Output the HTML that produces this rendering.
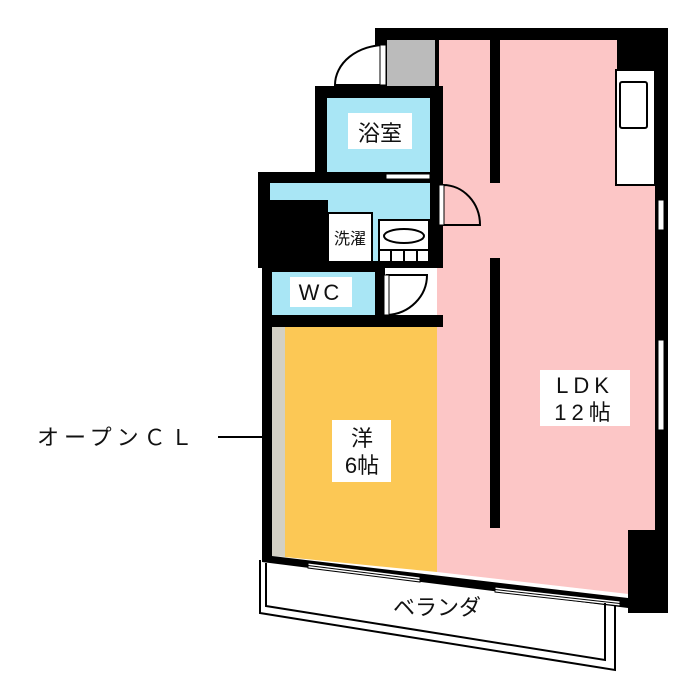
<!DOCTYPE html>
<html><head><meta charset="utf-8"><style>
html,body{margin:0;padding:0;background:#fff;}
svg{display:block}
text{font-family:"Liberation Sans","Noto Sans CJK JP",sans-serif;fill:#111}
</style></head><body>
<svg width="700" height="700" viewBox="0 0 700 700" xmlns="http://www.w3.org/2000/svg">
<polygon points="437,40 655,40 655,597 437,572" fill="#fcc6c6"/>
<polygon points="285,327 437,327 437,572 285,557" fill="#fcc855"/>
<polygon points="272,327 285,327 285,557 272,556" fill="#d3d0c4"/>
<rect x="387" y="40" width="48" height="46" fill="#bbbbbb"/>
<rect x="315" y="86" width="128" height="94" fill="#000"/>
<rect x="327" y="98" width="103" height="74" fill="#a9e6f5"/>
<rect x="258" y="172" width="185" height="96" fill="#000"/>
<rect x="270" y="183" width="160" height="78" fill="#a9e6f5"/>
<rect x="262" y="200" width="66" height="62" fill="#000"/>
<rect x="328" y="213" width="44" height="49" fill="#fff" stroke="#000" stroke-width="2"/>
<rect x="379" y="220" width="50" height="42" fill="#fff" stroke="#000" stroke-width="2"/>
<ellipse cx="404" cy="236" rx="20" ry="7" fill="none" stroke="#000" stroke-width="2"/>
<line x1="379" y1="250" x2="429" y2="250" stroke="#000" stroke-width="2"/>
<line x1="391" y1="250" x2="391" y2="262" stroke="#000" stroke-width="2"/>
<line x1="404" y1="250" x2="404" y2="262" stroke="#000" stroke-width="2"/>
<line x1="417" y1="250" x2="417" y2="262" stroke="#000" stroke-width="2"/>
<rect x="262" y="265" width="123" height="62" fill="#000"/>
<rect x="272" y="272" width="103" height="43" fill="#a9e6f5"/>
<rect x="262" y="315" width="181" height="12" fill="#000"/>
<rect x="262" y="265" width="10" height="295" fill="#000"/>
<rect x="375" y="28" width="293" height="12" fill="#000"/>
<rect x="375" y="28" width="12" height="58" fill="#000"/>
<rect x="435" y="40" width="4" height="46" fill="#000"/>
<rect x="617" y="28" width="51" height="42" fill="#000"/>
<rect x="655" y="28" width="13" height="585" fill="#000"/>
<rect x="658" y="200" width="6" height="30" fill="#fff" stroke="#000" stroke-width="1"/>
<rect x="658" y="340" width="6" height="90" fill="#fff" stroke="#000" stroke-width="1"/>
<rect x="628" y="530" width="40" height="83" fill="#000"/>
<rect x="616" y="70" width="39" height="115" fill="#fff" stroke="#000" stroke-width="2"/>
<rect x="620" y="82" width="27" height="46" fill="none" stroke="#000" stroke-width="2" rx="2"/>
<rect x="490" y="40" width="10" height="143" fill="#000"/>
<rect x="490" y="258" width="10" height="270" fill="#000"/>
<polygon points="262,550 272,556 628,598 668,600 668,613 262,562" fill="#000"/>
<polygon points="308,563 420,577 420,582 308,568" fill="#fff" stroke="#000" stroke-width="1"/>
<polygon points="495,587 620,601 620,606 495,592" fill="#fff" stroke="#000" stroke-width="1"/>
<line x1="308" y1="565.5" x2="420" y2="579.5" stroke="#000" stroke-width="1"/>
<line x1="495" y1="589.5" x2="620" y2="603.5" stroke="#000" stroke-width="1"/>
<polyline points="260,560 260,613 615,670 615,605" fill="none" stroke="#000" stroke-width="2"/>
<polyline points="266,563 266,606 605,660 605,603" fill="none" stroke="#000" stroke-width="2"/>
<path d="M335,85 A50,40 0 0 1 385,45 L385,85 Z" fill="#fff" stroke="#000" stroke-width="2"/>
<rect x="380" y="45" width="6" height="40" fill="#fff" stroke="#000" stroke-width="1"/>
<path d="M443,185 L443,225 L480,225 A37,40 0 0 0 443,185" fill="none" stroke="#000" stroke-width="2"/>
<rect x="439" y="185" width="5" height="40" fill="#fff" stroke="#000" stroke-width="1"/>
<path d="M387,275 L387,315 A42,40 0 0 0 427,275 Z" fill="none" stroke="#000" stroke-width="2"/>
<rect x="384" y="275" width="5" height="40" fill="#fff" stroke="#000" stroke-width="1"/>
<rect x="386" y="174" width="44" height="5" fill="#fff" stroke="#000" stroke-width="1"/>
<rect x="348" y="113" width="64" height="36" fill="#fff"/>
<text x="380" y="141" font-size="22" text-anchor="middle">浴室</text>
<text x="350" y="244" font-size="16" text-anchor="middle">洗濯</text>
<rect x="290" y="277" width="62" height="30" fill="#fff"/>
<text x="321" y="300" font-size="22" text-anchor="middle" letter-spacing="4">WC</text>
<rect x="332" y="420" width="59" height="62" fill="#fff"/>
<text x="362" y="446" font-size="22" text-anchor="middle">洋</text>
<text x="362" y="473" font-size="22" text-anchor="middle">6帖</text>
<rect x="540" y="370" width="90" height="56" fill="#fff"/>
<text x="585" y="393" font-size="22" text-anchor="middle" letter-spacing="5">LDK</text>
<text x="585" y="420" font-size="22" text-anchor="middle" letter-spacing="5">12帖</text>
<text x="37" y="445" font-size="22" letter-spacing="5">オープンＣＬ</text>
<line x1="218" y1="437" x2="272" y2="437" stroke="#000" stroke-width="2"/>
<text x="437" y="615" font-size="22" text-anchor="middle">ベランダ</text>
</svg>
</body></html>
